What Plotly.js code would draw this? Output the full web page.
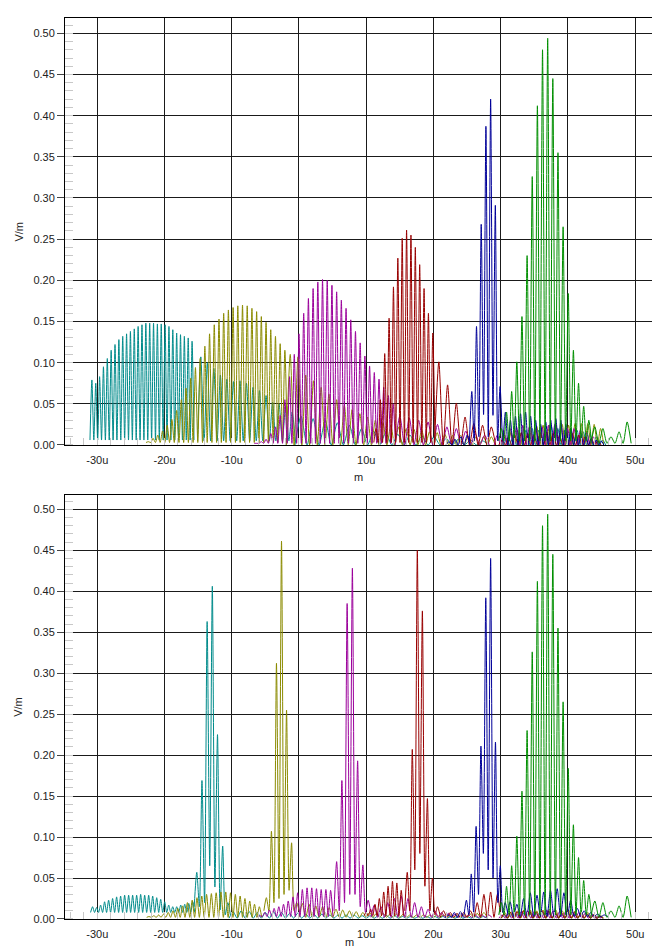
<!DOCTYPE html>
<html>
<head>
<meta charset="utf-8">
<script src="https://cdn.plot.ly/plotly-3.0.1.min.js"></script>
<style>html,body{margin:0;padding:0;background:#fff}#chart{width:652px;height:950px}</style>
</head>
<body>
<div id="chart"></div>
<script>
// ---------- axis labels ----------
const tickVals = [-30, -20, -10, 0, 10, 20, 30, 40, 50];
const tickText = ['-30u', '-20u', '-10u', '0', '10u', '20u', '30u', '40u', '50u'];

// Each curve is a list of segments: first-peak position (u), peak spacing (u),
// trough level (single value or one per gap), peak heights (V/m).

// ================= TOP PANEL =================
const cyanTopStart  = [-30.8, -14.6, 0.3, 30.9];
const cyanTopPeriod = [0.573, 0.97, 1.8, 0.95];
const cyanTopTrough = [0.006, 0.005, 0.0, 0.0];
const cyanTopPeaks = [
  [0.079,0.075,0.083,0.095,0.105,0.115,0.122,0.128,0.132,0.135,0.138,0.141,0.144,0.146,0.148,0.148,0.148,0.147,0.147,0.146,0.144,0.140,0.136,0.134,0.132,0.130,0.126],
  [0.107,0.100,0.093,0.085,0.080,0.077,0.078,0.075,0.070,0.066,0.060,0.052,0.050,0.047,0.040],
  [0.035,0.032,0.030,0.027,0.024,0.020,0.017,0.015,0.013,0.012,0.011,0.010,0.008,0.007,0.006,0.005],
  [0.008,0.012,0.015,0.018,0.020,0.018,0.020,0.022,0.020,0.018,0.020,0.018,0.016,0.014,0.010,0.006]
];

const oliveTopStart  = [-22.4, -1.3, 30.6];
const oliveTopPeriod = [0.7, 1.15, 0.95];
const oliveTopTrough = [0.003, 0.0, 0.0];
const oliveTopPeaks = [
  [0.004,0.008,0.012,0.017,0.024,0.031,0.042,0.055,0.069,0.081,0.094,0.105,0.120,0.135,0.146,0.153,0.160,0.164,0.167,0.169,0.170,0.169,0.166,0.162,0.156,0.149,0.140,0.132,0.123,0.115],
  [0.110,0.107,0.085,0.078,0.070,0.062,0.055,0.048,0.043,0.038,0.034,0.030,0.027,0.024,0.022,0.020,0.019,0.018,0.016,0.015,0.013,0.012,0.012,0.011,0.010,0.010,0.010],
  [0.012,0.016,0.018,0.020,0.022,0.023,0.024,0.024,0.025,0.025,0.024,0.026,0.026,0.026,0.025,0.020]
];

const magentaTopStart  = [-6.3, 15.0, 29.5];
const magentaTopPeriod = [0.7, 1.4, 0.95];
const magentaTopTrough = [0.002, 0.0, 0.0];
const magentaTopPeaks = [
  [0.002,0.004,0.007,0.014,0.022,0.036,0.055,0.083,0.110,0.135,0.160,0.178,0.190,0.198,0.201,0.200,0.194,0.186,0.176,0.166,0.152,0.138,0.124,0.108,0.096,0.088,0.080,0.070,0.060,0.050],
  [0.035,0.033,0.030,0.028,0.025,0.022,0.020,0.017,0.014,0.012],
  [0.012,0.018,0.020,0.022,0.024,0.022,0.020,0.022,0.024,0.025,0.022,0.020,0.020,0.018,0.015,0.010]
];

const redTopStart  = [11.45, 20.8, 30.2];
const redTopPeriod = [0.65, 1.3, 0.95];
const redTopTrough = [0.003, 0.0, 0.0];
const redTopPeaks = [
  [0.020,0.055,0.111,0.154,0.192,0.227,0.251,0.261,0.255,0.240,0.219,0.190,0.160,0.136],
  [0.101,0.073,0.051,0.034,0.026,0.024,0.022],
  [0.006,0.010,0.012,0.015,0.014,0.012,0.015,0.016,0.014,0.012,0.015,0.014,0.012,0.010,0.008,0.005]
];

const blueTopStart  = [22.3, 25.7, 30.7];
const blueTopPeriod = [0.9, 0.7, 0.75];
const blueTopTrough = [0.0, [0.005,0.010,0.037,0.010,0.036,0.005], 0.0];
const blueTopPeaks = [
  [0.004,0.007,0.010,0.012],
  [0.065,0.144,0.268,0.387,0.420,0.291,0.071],
  [0.040,0.030,0.035,0.038,0.040,0.035,0.030,0.025,0.028,0.030,0.032,0.030,0.025,0.020,0.015,0.012,0.010,0.008,0.006,0.005]
];

// green is the same in both panels
const greenStart  = [30.1, 44.0];
const greenPeriod = [0.765, 1.2];
const greenTrough = [0.005, 0.002];
const greenPeaks = [
  [0.020,0.040,0.065,0.101,0.156,0.230,0.326,0.412,0.480,0.494,0.445,0.355,0.265,0.184,0.115,0.075,0.047,0.030],
  [0.022,0.020,0.010,0.016,0.028]
];

// ================= BOTTOM PANEL =================
const cyanBotStart  = [-30.7, -15.2, -9.8, 30.5];
const cyanBotPeriod = [0.596, 0.77, 1.2, 0.95];
const cyanBotTrough = [0.008, [0.015,0.020,0.065,0.039,0.011,0.005], 0.001, 0.001];
const cyanBotPeaks = [
  [0.015,0.014,0.017,0.021,0.023,0.025,0.027,0.028,0.029,0.029,0.029,0.029,0.030,0.029,0.029,0.028,0.026,0.024,0.021,0.017,0.015,0.015,0.017,0.018,0.019,0.021],
  [0.057,0.169,0.363,0.406,0.225,0.089,0.020],
  [0.009,0.010,0.009,0.008,0.008,0.009,0.008,0.007,0.007,0.006,0.006,0.006,0.005,0.005,0.005,0.005,0.004,0.004,0.004,0.004,0.004,0.003,0.003,0.003,0.003,0.003,0.003,0.003,0.003,0.003,0.003,0.003],
  [0.004,0.005,0.006,0.007,0.008,0.007,0.008,0.008,0.007,0.006,0.007,0.006,0.005,0.005,0.004,0.003]
];

const oliveBotStart  = [-22.3, -4.85, 0.5, 30.6];
const oliveBotPeriod = [0.713, 0.75, 1.0, 0.95];
const oliveBotTrough = [0.002, [0.010,0.020,0.025,0.030,0.035,0.010], 0.002, 0.001];
const oliveBotPeaks = [
  [0.003,0.004,0.005,0.006,0.008,0.010,0.013,0.016,0.020,0.023,0.026,0.028,0.030,0.031,0.032,0.033,0.033,0.032,0.030,0.028,0.025,0.022,0.018,0.015],
  [0.026,0.107,0.312,0.461,0.255,0.093,0.020],
  [0.019,0.018,0.016,0.015,0.014,0.012,0.011,0.010,0.009,0.008,0.008,0.007,0.007,0.006,0.006,0.006,0.005,0.005,0.005,0.005,0.005,0.005,0.005,0.005,0.005,0.006,0.007,0.008],
  [0.008,0.009,0.010,0.011,0.011,0.010,0.011,0.012,0.011,0.010,0.011,0.010,0.009,0.008,0.006,0.004]
];

const magentaBotStart  = [-5.8, 5.6, 11.2, 30.2];
const magentaBotPeriod = [0.7, 0.78, 1.0, 0.95];
const magentaBotTrough = [0.003, [0.010,0.020,0.030,0.030,0.015,0.008], 0.002, 0.001];
const magentaBotPeaks = [
  [0.004,0.008,0.011,0.013,0.015,0.018,0.022,0.027,0.032,0.036,0.038,0.038,0.037,0.036,0.036,0.035],
  [0.070,0.169,0.385,0.428,0.193,0.066,0.023],
  [0.017,0.015,0.020,0.025,0.028,0.025,0.020,0.015,0.012,0.010,0.008,0.007,0.006,0.006,0.005,0.005,0.005,0.005],
  [0.005,0.007,0.008,0.009,0.010,0.009,0.010,0.011,0.010,0.009,0.010,0.009,0.008,0.007,0.005,0.003]
];

const redBotStart  = [10.0, 16.1, 21.5, 30.5];
const redBotPeriod = [0.65, 0.75, 1.0, 0.95];
const redBotTrough = [0.004, [0.010,0.060,0.080,0.040,0.010,0.005], 0.002, 0.001];
const redBotPeaks = [
  [0.008,0.012,0.018,0.025,0.033,0.040,0.046,0.044,0.035],
  [0.057,0.207,0.450,0.376,0.147,0.050,0.015],
  [0.010,0.008,0.007,0.008,0.010,0.020,0.030,0.033,0.030],
  [0.006,0.008,0.009,0.010,0.010,0.009,0.010,0.010,0.009,0.008,0.009,0.008,0.007,0.006,0.005,0.003]
];

const blueBotStart  = [22.2, 24.9, 31.4];
const blueBotPeriod = [0.9, 0.72, 1.0];
const blueBotTrough = [0.002, [0.005,0.008,0.030,0.080,0.060,0.050,0.020,0.008], 0.003];
const blueBotPeaks = [
  [0.005,0.008,0.009],
  [0.023,0.055,0.113,0.211,0.392,0.440,0.216,0.065,0.020],
  [0.021,0.018,0.025,0.032,0.029,0.033,0.035,0.037,0.032,0.023,0.013,0.010,0.008,0.006,0.005]
];

// ---------- styles ----------
const C_CYAN = '#008b8b', C_OLIVE = '#8b8b00', C_MAG = '#9b009b',
      C_RED = '#990000', C_BLUE = '#000099', C_GREEN = '#008f00';

function curve(starts, periods, troughs, peaks, color, xa, ya) {
  return starts.map((s, k) => {
    const pk = peaks[k], tr = troughs[k];
    const trAt = i => Array.isArray(tr) ? tr[Math.min(Math.max(i, 0), tr.length - 1)] : tr;
    const y = [trAt(0)];
    pk.forEach((p, i) => {
      y.push(p);
      y.push(i < pk.length - 1 ? trAt(i) : (Array.isArray(tr) ? tr[tr.length - 1] : tr));
    });
    return {
      type: 'scatter', mode: 'lines', y: y,
      x0: s - periods[k] / 2, dx: periods[k] / 2,
      xaxis: xa, yaxis: ya,
      line: { color: color, width: 1, shape: 'spline', smoothing: 0.7 },
      hoverinfo: 'skip', showlegend: false
    };
  });
}

const traces = [].concat(
  curve(cyanTopStart, cyanTopPeriod, cyanTopTrough, cyanTopPeaks, C_CYAN, 'x', 'y'),
  curve(oliveTopStart, oliveTopPeriod, oliveTopTrough, oliveTopPeaks, C_OLIVE, 'x', 'y'),
  curve(magentaTopStart, magentaTopPeriod, magentaTopTrough, magentaTopPeaks, C_MAG, 'x', 'y'),
  curve(redTopStart, redTopPeriod, redTopTrough, redTopPeaks, C_RED, 'x', 'y'),
  curve(blueTopStart, blueTopPeriod, blueTopTrough, blueTopPeaks, C_BLUE, 'x', 'y'),
  curve(greenStart, greenPeriod, greenTrough, greenPeaks, C_GREEN, 'x', 'y'),
  curve(cyanBotStart, cyanBotPeriod, cyanBotTrough, cyanBotPeaks, C_CYAN, 'x2', 'y2'),
  curve(oliveBotStart, oliveBotPeriod, oliveBotTrough, oliveBotPeaks, C_OLIVE, 'x2', 'y2'),
  curve(magentaBotStart, magentaBotPeriod, magentaBotTrough, magentaBotPeaks, C_MAG, 'x2', 'y2'),
  curve(redBotStart, redBotPeriod, redBotTrough, redBotPeaks, C_RED, 'x2', 'y2'),
  curve(blueBotStart, blueBotPeriod, blueBotTrough, blueBotPeaks, C_BLUE, 'x2', 'y2'),
  curve(greenStart, greenPeriod, greenTrough, greenPeaks, C_GREEN, 'x2', 'y2')
);

function xAxis(anchor) {
  return {
    anchor: anchor, domain: [0, 1], range: [-34.8, 52.5],
    tickmode: 'array', tickvals: tickVals, ticktext: tickText,
    ticks: 'outside', ticklen: 5, tickcolor: 'rgba(0,0,0,0)',
    showgrid: true, gridcolor: '#1a1a1a', gridwidth: 1, zeroline: false,
    showline: true, linecolor: '#000', linewidth: 1, mirror: true,
    tickfont: { size: 11, color: '#222' },
    minor: { tickmode: 'linear', tick0: 0, dtick: 2, ticks: 'inside', ticklen: 7, tickcolor: '#c8c8c8', showgrid: false }
  };
}
function yAxis(anchor, domain, top) {
  return {
    anchor: anchor, domain: domain, range: [0, top],
    tickmode: 'linear', tick0: 0, dtick: 0.05, tickformat: '.2f',
    ticks: 'outside', ticklen: 7, tickcolor: '#444',
    showgrid: true, gridcolor: '#1a1a1a', gridwidth: 1, zeroline: false,
    showline: true, linecolor: '#000', linewidth: 1,
    tickfont: { size: 11, color: '#222' },
    minor: { tickmode: 'linear', tick0: 0, dtick: 0.01, ticks: 'inside', ticklen: 8, tickcolor: '#c8c8c8', showgrid: false }
  };
}

const layout = {
  width: 652, height: 950,
  margin: { l: 65, r: 0, t: 18, b: 31, pad: 0 },
  paper_bgcolor: '#fff', plot_bgcolor: '#fff', showlegend: false,
  font: { family: 'Liberation Sans, Arial, sans-serif', size: 11, color: '#222' },
  xaxis: xAxis('y'),
  yaxis: yAxis('x', [0.5261, 1], 0.5186),
  xaxis2: xAxis('y2'),
  yaxis2: yAxis('x2', [0, 0.4709], 0.5178),
  annotations: [
    { text: 'V/m', xref: 'paper', yref: 'paper', x: -0.080, y: 0.763, textangle: -90, showarrow: false, xanchor: 'center', yanchor: 'middle', font: { size: 11, color: '#222' } },
    { text: 'V/m', xref: 'paper', yref: 'paper', x: -0.080, y: 0.2355, textangle: -90, showarrow: false, xanchor: 'center', yanchor: 'middle', font: { size: 11, color: '#222' } },
    { text: 'm', xref: 'paper', yref: 'paper', x: 0.5, y: 0.4906, showarrow: false, xanchor: 'center', yanchor: 'middle', font: { size: 11, color: '#222' } },
    { text: 'm', xref: 'paper', yref: 'paper', x: 0.4855, y: -0.0333, showarrow: false, xanchor: 'center', yanchor: 'bottom', borderpad: 0, font: { size: 11, color: '#222' } }
  ]
};

Plotly.newPlot('chart', traces, layout, { displayModeBar: false, staticPlot: true });
</script>
</body>
</html>
